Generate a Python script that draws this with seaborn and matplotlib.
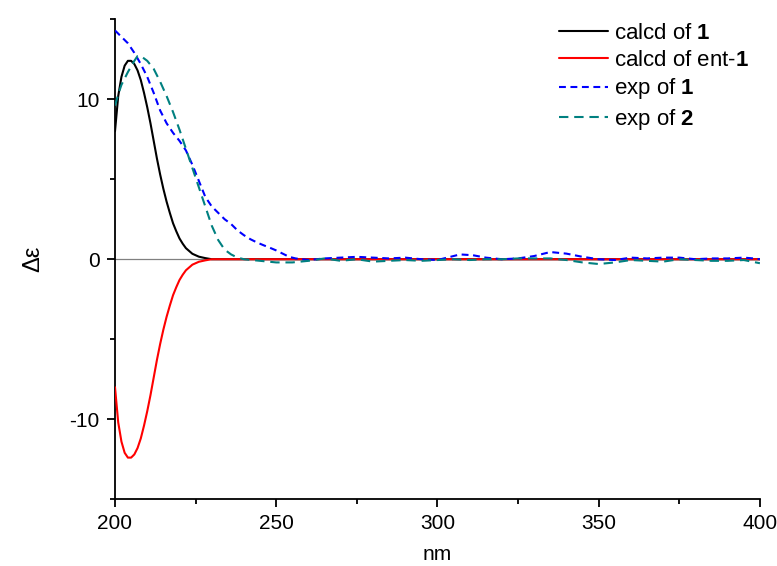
import numpy as np
import pandas as pd
import matplotlib
matplotlib.use("Agg")
import matplotlib.pyplot as plt
from matplotlib.ticker import MultipleLocator
import seaborn as sns

# ---- data ----
calc_nm = [200, 201, 202, 203, 204, 205, 206, 207, 208, 209, 210, 211, 212, 213, 214, 215,
           216, 217, 218, 219, 220, 221, 222, 224, 226, 228, 230, 400]
calc_1 = [8.0, 10.2, 11.4, 12.1, 12.4, 12.4, 12.2, 11.8, 11.2, 10.4, 9.5, 8.5, 7.4, 6.3, 5.3, 4.4,
          3.6, 2.9, 2.25, 1.75, 1.3, 0.97, 0.69, 0.34, 0.16, 0.07, 0.0, 0.0]
calc_ent1 = [-v for v in calc_1]

exp1_nm = [200, 202, 204, 206, 208, 210, 212, 214, 216, 218, 220, 222, 224, 226, 228,
           230, 232, 234, 236, 238, 240, 242, 244, 246, 248, 250, 252, 254, 256, 258,
           260, 265, 270, 275, 280, 285, 290, 295, 300, 303, 307, 311, 315, 320, 325,
           330, 335, 340, 345, 350, 355, 360, 365, 370, 375, 380, 385, 390, 395, 398, 400]
exp1 = [14.3, 13.9, 13.5, 12.9, 12.2, 11.4, 10.4, 9.3, 8.5, 7.9, 7.4, 6.8, 5.9, 4.9, 3.9,
        3.3, 2.9, 2.5, 2.2, 1.8, 1.5, 1.25, 1.05, 0.88, 0.72, 0.55, 0.35, 0.15, 0.05, 0.0,
        -0.05, 0.05, 0.1, 0.15, 0.1, 0.05, 0.1, 0.0, -0.05, 0.1, 0.3, 0.25, 0.1, 0.0, 0.05,
        0.2, 0.45, 0.35, 0.15, 0.0, -0.05, 0.1, 0.05, 0.1, 0.1, 0.0, 0.05, 0.05, 0.1, 0.05, 0.0]

exp2_nm = [200, 201, 202, 204, 206, 207, 208, 210, 212, 214, 216, 218, 220, 222, 224,
           226, 228, 230, 232, 234, 236, 238, 240, 245, 250, 255, 260, 265, 270, 275,
           280, 285, 290, 295, 300, 305, 310, 315, 320, 325, 330, 335, 340, 345, 350,
           355, 360, 365, 370, 375, 380, 385, 390, 395, 400]
exp2 = [9.6, 10.3, 10.9, 11.7, 12.4, 12.7, 12.7, 12.4, 11.9, 11.1, 10.2, 9.2, 8.1, 6.9, 5.7,
        4.5, 3.3, 2.1, 1.2, 0.6, 0.3, 0.1, 0.0, -0.1, -0.2, -0.2, -0.1, 0.05, -0.1, 0.0,
        -0.15, -0.1, -0.05, -0.1, -0.05, 0.0, -0.05, 0.0, 0.0, 0.05, 0.05, 0.05, -0.05, -0.2, -0.3,
        -0.2, -0.05, -0.1, -0.15, 0.0, -0.05, -0.1, -0.1, -0.05, -0.25]

labels = [r"calcd of $\mathbf{1}$", r"calcd of ent-$\mathbf{1}$",
          r"exp of $\mathbf{1}$", r"exp of $\mathbf{2}$"]

# ---- style ----
sns.set_theme(style="ticks")
plt.rcParams["font.family"] = ["Liberation Sans", "DejaVu Sans"]
plt.rcParams["mathtext.fontset"] = "custom"
plt.rcParams["mathtext.rm"] = "Liberation Sans"
plt.rcParams["mathtext.bf"] = "Liberation Sans:bold"
plt.rcParams["axes.unicode_minus"] = False
for k in ["text.color", "axes.labelcolor", "xtick.color", "ytick.color", "axes.edgecolor"]:
    plt.rcParams[k] = "black"

fig = plt.figure(figsize=(7.77, 5.66), dpi=100)
ax = fig.add_axes([0.148, 0.118, 0.830, 0.848])

ax.axhline(0, color="#808080", lw=0.9, zorder=1)

df_c1 = pd.DataFrame({"nm": calc_nm, "v": calc_1})
df_c2 = pd.DataFrame({"nm": calc_nm, "v": calc_ent1})
df_e1 = pd.DataFrame({"nm": exp1_nm, "v": exp1})
df_e2 = pd.DataFrame({"nm": exp2_nm, "v": exp2})

sns.lineplot(data=df_c1, x="nm", y="v", color="black", lw=1.5, ax=ax, label=labels[0], zorder=3)
sns.lineplot(data=df_c2, x="nm", y="v", color="red", lw=1.5, ax=ax, label=labels[1], zorder=3)
sns.lineplot(data=df_e1, x="nm", y="v", color="blue", lw=1.5, ax=ax, label=labels[2],
             linestyle=(0, (3.3, 2.2)), zorder=4)
sns.lineplot(data=df_e2, x="nm", y="v", color="#008080", lw=1.5, ax=ax, label=labels[3],
             linestyle=(0, (4.5, 2.8)), zorder=4)

ax.set_xlim(200, 400)
ax.set_ylim(-15, 15)
ax.xaxis.set_major_locator(MultipleLocator(50))
ax.xaxis.set_minor_locator(MultipleLocator(25))
ax.yaxis.set_major_locator(MultipleLocator(10))
ax.yaxis.set_minor_locator(MultipleLocator(5))
ax.tick_params(which="major", direction="out", length=6, width=1.3, labelsize=15, pad=5)
ax.tick_params(which="minor", direction="out", length=3.5, width=1.3)
for s in ["top", "right"]:
    ax.spines[s].set_visible(False)
for s in ["left", "bottom"]:
    ax.spines[s].set_linewidth(1.3)

ax.set_xlabel("nm", fontsize=15, labelpad=8)
ax.set_ylabel("Δε", fontsize=17, labelpad=18)

leg = ax.legend(loc="upper left", bbox_to_anchor=(0.719, 0.959), bbox_transform=fig.transFigure,
                frameon=False, fontsize=16, handlelength=2.2, handletextpad=0.3,
                labelspacing=0.25, borderaxespad=0, borderpad=0)

fig.savefig("out.png", dpi=100)
